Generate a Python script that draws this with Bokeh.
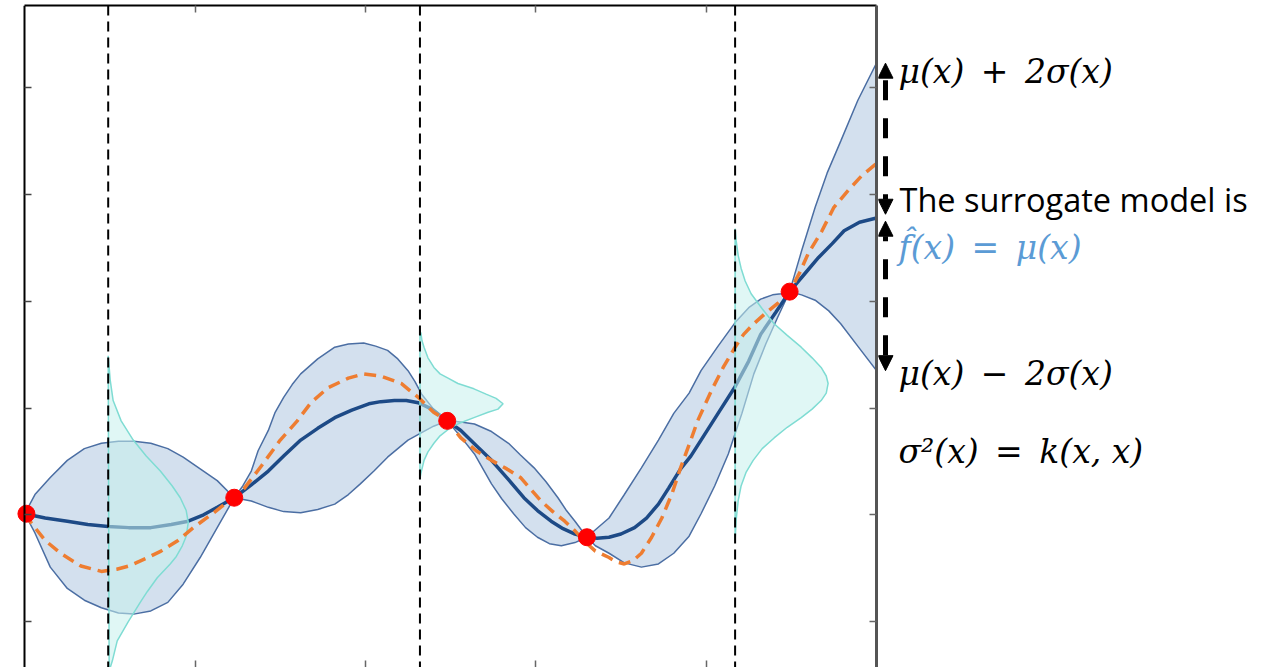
from bokeh.plotting import figure
from bokeh.layouts import row
from bokeh.models import Range1d, FixedTicker, LinearAxis, Span, Arrow, NormalHead
from bokeh.core.properties import value
from bokeh.embed import file_html
from bokeh.resources import INLINE

# ---------------- data ----------------
x_ticks = [1, 2, 3, 4]
y_ticks = [1, 2, 3, 4, 5, 6]

obs_x = [0.01, 1.23, 2.48, 3.30, 4.49]
obs_y = [2.01, 2.16, 2.88, 1.79, 4.09]

mean_x = [0.00, 0.12, 0.25, 0.37, 0.49, 0.61, 0.74, 0.86, 0.96, 1.05, 1.13, 1.23,
          1.33, 1.43, 1.52, 1.62, 1.72, 1.82, 1.92, 2.02, 2.09, 2.17, 2.24, 2.31, 2.39, 2.48,
          2.56, 2.65, 2.74, 2.84, 2.93, 3.01, 3.09, 3.16, 3.23, 3.30,
          3.36, 3.43, 3.50, 3.58, 3.65, 3.72, 3.78, 3.85, 3.91, 3.97, 4.07, 4.17, 4.25, 4.32, 4.41, 4.49,
          4.58, 4.66, 4.74, 4.81, 4.90, 5.00]
mean_y = [2.01, 1.97, 1.94, 1.91, 1.89, 1.88, 1.88, 1.91, 1.94, 2.00, 2.07, 2.16,
          2.28, 2.41, 2.55, 2.70, 2.81, 2.91, 2.98, 3.04, 3.06, 3.07, 3.07, 3.05, 2.99, 2.88,
          2.79, 2.65, 2.51, 2.33, 2.16, 2.04, 1.94, 1.87, 1.82, 1.79,
          1.78, 1.79, 1.82, 1.88, 1.97, 2.10, 2.25, 2.43, 2.55, 2.70, 2.95, 3.20, 3.44, 3.69, 3.90, 4.09,
          4.26, 4.41, 4.54, 4.66, 4.74, 4.78]

upper_x = [0.00, 0.06, 0.15, 0.25, 0.35, 0.45, 0.55, 0.64, 0.74, 0.84, 0.93, 1.03, 1.13, 1.23,
           1.28, 1.33, 1.37, 1.43, 1.47, 1.52, 1.57, 1.62, 1.72, 1.82, 1.90, 1.99, 2.06, 2.13, 2.19,
           2.25, 2.29, 2.33, 2.40, 2.48,
           2.56, 2.64, 2.74, 2.84, 2.91, 2.99, 3.06, 3.13, 3.18, 3.23, 3.30,
           3.35, 3.43, 3.52, 3.62, 3.72, 3.81, 3.90, 3.97, 4.07, 4.17, 4.25, 4.32, 4.39, 4.44, 4.49,
           4.56, 4.64, 4.71, 4.79, 4.89, 5.00]
upper_y = [2.01, 2.19, 2.35, 2.51, 2.62, 2.67, 2.69, 2.69, 2.67, 2.62, 2.54, 2.43, 2.32, 2.16,
           2.27, 2.41, 2.60, 2.79, 2.96, 3.10, 3.22, 3.32, 3.46, 3.57, 3.60, 3.61, 3.58, 3.54, 3.46,
           3.35, 3.25, 3.13, 2.99, 2.88,
           2.87, 2.85, 2.78, 2.67, 2.56, 2.44, 2.31, 2.16, 2.04, 1.94, 1.79,
           1.86, 1.97, 2.19, 2.44, 2.70, 2.95, 3.14, 3.35, 3.58, 3.80, 3.94, 4.02, 4.06, 4.07, 4.09,
           4.47, 4.88, 5.20, 5.50, 5.88, 6.23]

lower_x = [0.00, 0.06, 0.15, 0.25, 0.35, 0.45, 0.55, 0.64, 0.74, 0.84, 0.93, 1.03, 1.13, 1.23,
           1.33, 1.43, 1.52, 1.62, 1.72, 1.82, 1.90, 1.97, 2.05, 2.13, 2.19, 2.25, 2.33, 2.40, 2.48,
           2.56, 2.64, 2.69, 2.74, 2.80, 2.87, 2.94, 3.01, 3.08, 3.15, 3.23, 3.30,
           3.35, 3.43, 3.52, 3.62, 3.72, 3.81, 3.90, 3.97, 4.05, 4.13, 4.21, 4.28, 4.35, 4.42, 4.49,
           4.56, 4.64, 4.72, 4.79, 4.89, 5.00]
lower_y = [2.01, 1.83, 1.51, 1.31, 1.20, 1.13, 1.08, 1.07, 1.10, 1.18, 1.35, 1.60, 1.88, 2.16,
           2.13, 2.07, 2.03, 2.02, 2.05, 2.10, 2.19, 2.29, 2.41, 2.54, 2.62, 2.70, 2.77, 2.83, 2.88,
           2.73, 2.57, 2.43, 2.29, 2.15, 2.01, 1.88, 1.79, 1.73, 1.71, 1.74, 1.79,
           1.71, 1.64, 1.55, 1.51, 1.54, 1.64, 1.80, 2.01, 2.27, 2.57, 2.95, 3.32, 3.60, 3.85, 4.09,
           4.06, 4.01, 3.91, 3.79, 3.58, 3.35]

true_x = [0.00, 0.04, 0.12, 0.21, 0.33, 0.45, 0.54, 0.61, 0.71, 0.80, 0.90, 0.99, 1.11, 1.23,
          1.29, 1.39, 1.50, 1.60, 1.68, 1.78, 1.90, 1.99, 2.09, 2.21, 2.31, 2.40, 2.48,
          2.56, 2.65, 2.74, 2.83, 2.91, 2.97, 3.03, 3.10, 3.17, 3.23, 3.28, 3.35, 3.43, 3.47, 3.52,
          3.57, 3.62, 3.68, 3.74, 3.80, 3.85, 3.91, 3.95, 4.03, 4.10, 4.17, 4.22, 4.28, 4.35, 4.42,
          4.49, 4.55, 4.60, 4.68, 4.75, 4.84, 4.91, 5.00]
true_y = [2.01, 1.92, 1.76, 1.64, 1.52, 1.47, 1.49, 1.52, 1.59, 1.66, 1.76, 1.88, 2.02, 2.17,
          2.25, 2.46, 2.70, 2.88, 3.05, 3.19, 3.28, 3.32, 3.30, 3.23, 3.10, 2.96, 2.88,
          2.72, 2.60, 2.51, 2.43, 2.35, 2.24, 2.13, 2.03, 1.94, 1.85, 1.76, 1.66, 1.60, 1.56, 1.54,
          1.57, 1.64, 1.79, 1.97, 2.20, 2.44, 2.70, 2.88, 3.16, 3.38, 3.57, 3.69, 3.79, 3.89, 3.98,
          4.09, 4.27, 4.45, 4.66, 4.88, 5.05, 5.17, 5.29]

query_x = [0.49, 2.32, 4.17]

bell1_y = [3.49, 3.26, 3.07, 2.88, 2.70, 2.55, 2.41, 2.27, 2.16, 2.04, 1.93, 1.80, 1.71, 1.61,
           1.54, 1.41, 1.28, 1.18, 1.00, 0.82, 0.63, 0.57, 0.35]
bell1_w = [0.0, 0.012, 0.029, 0.076, 0.147, 0.223, 0.306, 0.376, 0.423, 0.458, 0.470, 0.458,
           0.435, 0.400, 0.364, 0.288, 0.229, 0.188, 0.118, 0.053, 0.024, 0.012, 0.006]
bell2_y = [3.72, 3.70, 3.63, 3.57, 3.47, 3.38, 3.32, 3.28, 3.23, 3.18, 3.13, 3.09, 3.04, 2.99,
           2.96, 2.91, 2.86, 2.82, 2.74, 2.67, 2.59, 2.51, 2.39, 2.34]
bell2_w = [0.0, 0.006, 0.012, 0.024, 0.047, 0.082, 0.118, 0.165, 0.223, 0.317, 0.388, 0.447,
           0.488, 0.458, 0.400, 0.317, 0.235, 0.182, 0.118, 0.082, 0.047, 0.024, 0.006, 0.0]
bell3_y = [4.68, 4.57, 4.43, 4.31, 4.19, 4.07, 3.93, 3.79, 3.68, 3.57, 3.47, 3.38, 3.30, 3.23,
           3.14, 3.07, 2.99, 2.91, 2.82, 2.72, 2.62, 2.51, 2.40, 2.27, 2.13, 1.95, 1.76]
bell3_w = [0.0, 0.006, 0.018, 0.035, 0.059, 0.094, 0.159, 0.229, 0.306, 0.388, 0.452, 0.505,
           0.535, 0.546, 0.535, 0.505, 0.452, 0.388, 0.306, 0.229, 0.159, 0.106, 0.065, 0.035,
           0.018, 0.006, 0.0]

# ---------------- main plot ----------------
p = figure(width=878, height=667, x_range=Range1d(-0.06, 5.0), y_range=Range1d(0.57, 6.77),
           output_backend="svg", toolbar_location=None,
           x_axis_location=None, y_axis_location=None,
           min_border_left=14, min_border_right=2, min_border_top=5, min_border_bottom=0)
p.outline_line_color = None
p.background_fill_color = "white"
p.border_fill_color = "white"
p.grid.visible = False


def make_axis(ticks, line_color, line_width, tick_color):
    ax = LinearAxis(ticker=FixedTicker(ticks=ticks))
    ax.major_tick_in = 7
    ax.major_tick_out = 0
    ax.minor_tick_in = 0
    ax.minor_tick_out = 0
    ax.major_label_text_font_size = "0px"
    ax.major_label_standoff = 0
    ax.major_label_overrides = {t: "" for t in ticks}
    ax.axis_line_color = line_color
    ax.axis_line_width = line_width
    ax.major_tick_line_color = tick_color
    ax.major_tick_line_width = 1.5
    return ax


left_ax = make_axis(y_ticks, "black", 2, "#444444")
left_ax.fixed_location = 0
p.add_layout(left_ax, "left")
p.add_layout(make_axis(y_ticks, "#555555", 3, "#666666"), "right")
top_ax = make_axis(x_ticks, "black", 2, "#666666")
top_ax.bounds = (0, 5)
p.add_layout(top_ax, "above")
bot_ax = make_axis(x_ticks, None, 1, "#666666")
bot_ax.bounds = (0, 5)
p.add_layout(bot_ax, "below")

# confidence band
band_x = upper_x + lower_x[::-1]
band_y = upper_y + lower_y[::-1]
p.patch(band_x, band_y, fill_color="#d3e0ee", fill_alpha=1.0, line_color=None)
p.line(upper_x, upper_y, line_color="#4b6ea3", line_width=1.5)
p.line(lower_x, lower_y, line_color="#4b6ea3", line_width=1.5)

# posterior mean
p.line(mean_x, mean_y, line_color="#1d4a86", line_width=3.5)

# gaussian slices at the query points
for qx, by, bw in [(query_x[0], bell1_y, bell1_w), (query_x[1], bell2_y, bell2_w),
                   (query_x[2], bell3_y, bell3_w)]:
    p.patch([qx + w for w in bw], by, fill_color="#c6f1ec", fill_alpha=0.55,
            line_color="#7fdcd3", line_width=1.5)

# query lines
for qx in query_x:
    p.add_layout(Span(location=qx, dimension="height", line_color="black",
                      line_width=2, line_dash="10 6"))

# true function
p.line(true_x, true_y, line_color="#ee7d31", line_width=3.5, line_dash="12 7")

# observations
p.scatter(obs_x, obs_y, size=17, fill_color="#ff0000", line_color="#ff0000")

# ---------------- annotation panel ----------------
p2 = figure(width=385, height=667, x_range=Range1d(0, 385), y_range=p.y_range,
            output_backend="svg", toolbar_location=None,
            x_axis_location=None, y_axis_location=None,
            min_border_left=0, min_border_right=0, min_border_top=5, min_border_bottom=0)
p2.outline_line_color = None
p2.grid.visible = False

mu_end = mean_y[-1]
up_end = upper_y[-1]
lo_end = lower_y[-1]

for ys, ye in [(mu_end + 0.035, up_end), (mu_end - 0.03, lo_end)]:
    p2.add_layout(Arrow(x_start=7, y_start=ys, x_end=7, y_end=ye,
                        line_color="black", line_width=5, line_dash="20 18",
                        start=NormalHead(size=15, fill_color="black", line_color="black", line_width=1),
                        end=NormalHead(size=15, fill_color="black", line_color="black", line_width=1)))

sp = "\u2002"
math_font = value("DejaVu Serif")
p2.text(x=[20, 20, 20], y=[6.15, 3.32, 2.59],
        text=[f"μ(x){sp}+{sp}2σ(x)", f"μ(x){sp}−{sp}2σ(x)", f"σ²(x){sp}={sp}k(x, x)"],
        text_font=math_font, text_font_style="italic", text_font_size="33px",
        text_baseline="middle", text_align="left", text_color="black")
p2.text(x=[20], y=[4.50], text=[f"f\u0302(x){sp}={sp}μ(x)"],
        text_font=math_font, text_font_style="italic", text_font_size="33px",
        text_baseline="middle", text_align="left", text_color="#5b9bd5")
p2.text(x=[21], y=[4.95], text=["The surrogate model is"],
        text_font=value("Open Sans"), text_font_size="32.5px",
        text_baseline="middle", text_align="left", text_color="black")

layout = row(p, p2)
open("out.html", "w").write(file_html(layout, INLINE))
